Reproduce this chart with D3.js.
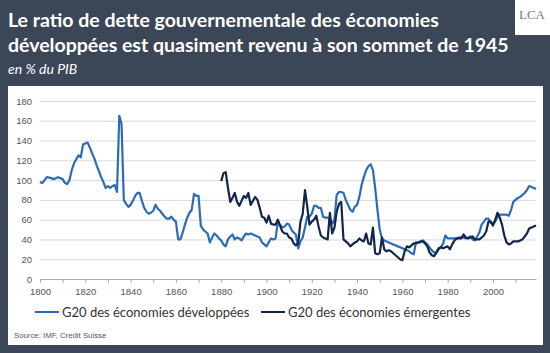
<!DOCTYPE html>
<html>
<head>
<meta charset="utf-8">
<script src="https://cdn.jsdelivr.net/npm/d3@7"></script>
<style>
  body { margin: 0; background: #3b4657; }
  svg { display: block; }
</style>
</head>
<body>
<div id="chart"></div>
<script>
// debt ratio, % of GDP
var devYears = [1800,1801,1802,1803,1805,1806,1808,1810,1811,1812,1813,1814,1815,1816,1817,1818,1819,1820,1821,1822,1823,1824,1825,1826,1827,1828,1829,1830,1831,1832,1833,1834,1835,1836,1837,1838,1839,1840,1841,1842,1843,1844,1845,1846,1847,1848,1849,1850,1851,1852,1853,1854,1855,1856,1857,1858,1859,1860,1861,1862,1863,1864,1865,1866,1867,1868,1869,1870,1871,1872,1873,1874,1875,1876,1877,1878,1879,1880,1881,1882,1883,1884,1885,1886,1887,1888,1889,1890,1891,1892,1893,1894,1895,1896,1897,1898,1899,1900,1901,1902,1903,1904,1905,1906,1907,1908,1909,1910,1911,1912,1913,1914,1915,1916,1917,1918,1919,1920,1921,1922,1923,1924,1925,1926,1927,1928,1929,1930,1931,1932,1933,1934,1935,1936,1937,1938,1939,1940,1941,1942,1943,1944,1945,1946,1947,1948,1949,1950,1951,1952,1953,1954,1955,1956,1957,1958,1959,1960,1961,1962,1963,1964,1965,1966,1967,1968,1969,1970,1971,1972,1973,1974,1975,1976,1977,1978,1979,1980,1981,1982,1983,1984,1985,1986,1987,1988,1989,1990,1991,1992,1993,1994,1995,1996,1997,1998,1999,2000,2001,2002,2003,2004,2005,2006,2007,2008,2009,2010,2011,2012,2013,2014,2015,2016,2017,2018,2019];
var devValues = [98,97,100,103,102,101,103,101,97,96,100,110,117,121,125,123,136,137,138,133,127,122,115,109,103,98,92,94,92,94,95,88,165,157,80,76,73,75,79,84,87,87,79,72,68,66,67,69,75,71,69,66,63,61,61,63,60,58,40,40,47,55,62,67,70,86,84,84,54,50,48,46,37,42,46,44,41,39,35,33,40,43,45,40,42,41,39,43,46,45,46,45,44,43,42,37,35,33,37,41,40,41,57,55,52,53,56,55,50,47,45,31,38,42,52,63,63,66,74,74,72,72,63,62,62,61,56,60,85,88,88,87,80,75,70,68,73,75,83,95,103,110,114,116,110,92,70,50,41,39,38,37,36,35,34,33,32,31,30,29,28,26,25,37,37,37,39,37,35,32,29,27,26,30,32,36,44,41,41,41,41,41,42,42,42,41,42,43,40,39,43,47,55,58,61,61,57,56,58,63,65,65,65,65,64,70,78,80,82,83,85,87,90,94,93,92,91];

var emYears = [1880,1881,1882,1883,1884,1885,1886,1887,1888,1889,1890,1891,1892,1893,1894,1895,1896,1897,1898,1899,1900,1901,1902,1903,1904,1905,1906,1907,1908,1909,1910,1911,1912,1913,1914,1915,1916,1917,1918,1919,1920,1921,1922,1923,1924,1925,1926,1927,1928,1929,1930,1931,1932,1933,1934,1935,1936,1937,1938,1939,1940,1941,1942,1943,1944,1945,1946,1947,1948,1949,1950,1951,1952,1953,1954,1955,1956,1957,1958,1959,1960,1961,1962,1963,1964,1965,1966,1967,1968,1969,1970,1971,1972,1973,1974,1975,1976,1977,1978,1979,1980,1981,1982,1983,1984,1985,1986,1987,1988,1989,1990,1991,1992,1993,1994,1995,1996,1997,1998,1999,2000,2001,2002,2003,2004,2005,2006,2007,2008,2009,2010,2011,2012,2013,2014,2015,2016,2017,2018,2019];
var emValues = [99,107,108,92,78,82,87,78,74,79,84,82,87,75,79,83,80,72,63,62,57,64,56,55,55,60,54,48,46,46,42,41,36,34,36,58,66,90,73,55,58,60,64,53,44,42,41,40,67,46,52,68,76,78,40,38,36,33,35,37,38,41,39,38,46,36,35,52,26,25,26,42,30,28,29,28,26,24,22,20,19,28,33,32,34,36,36,37,38,38,36,33,27,24,23,27,31,32,31,32,33,30,35,39,41,41,41,45,42,41,42,43,40,40,40,42,44,48,58,58,54,60,67,62,55,44,37,35,36,38,38,38,39,40,43,46,51,52,53,54];

var yTicks = [0,20,40,60,80,100,120,140,160,180];
var xLabelYears = [1800,1820,1840,1860,1880,1900,1920,1940,1960,1980,2000];

var titleLines = ["Le ratio de dette gouvernementale des économies",
                  "développées est quasiment revenu à son sommet de 1945"];
var subtitle = "en % du PIB";
var seriesNames = ["G20 des économies développées", "G20 des économies émergentes"];
var source = "Source: IMF, Credit Suisse";

var width = 550, height = 353;
var margin = { top: 101, right: 14, bottom: 74, left: 40 },
    w = width - margin.left - margin.right,
    h = height - margin.top - margin.bottom;

var blue = "#2b6cb6", navy = "#13264a";

var svg = d3.select("#chart")
    .append("svg")
    .attr("width", width)
    .attr("height", height);

svg.append("rect")
    .attr("width", width).attr("height", height)
    .attr("fill", "#3b4657");

// white chart panel
svg.append("rect")
    .attr("x", 8).attr("y", 86)
    .attr("width", 535).attr("height", 259)
    .attr("fill", "white");

// logo box
svg.append("rect")
    .attr("x", 515).attr("y", 0)
    .attr("width", 35).attr("height", 35)
    .attr("fill", "white");
svg.append("text")
    .attr("x", 532).attr("y", 19)
    .attr("text-anchor", "middle")
    .style("font-family", "'Liberation Serif', serif")
    .style("font-size", "13px")
    .style("fill", "#7a7a7a")
    .text("LCA");

// titles
svg.selectAll(".title")
    .data(titleLines)
    .enter()
    .append("text")
    .attr("class", "title")
    .attr("x", 8)
    .attr("y", function(d, i) { return 27 + i * 25; })
    .style("font-family", "Lato, sans-serif")
    .style("font-weight", "bold")
    .style("font-size", "19.5px")
    .style("fill", "white")
    .text(function(d) { return d; });

svg.append("text")
    .attr("x", 8).attr("y", 74)
    .style("font-family", "Lato, sans-serif")
    .style("font-style", "italic")
    .style("font-size", "14px")
    .style("fill", "white")
    .text(subtitle);

var g = svg.append("g")
    .attr("transform", "translate(" + margin.left + "," + margin.top + ")");

var x = d3.scaleLinear()
    .domain([1800, 2019])
    .range([0, w]);

var y = d3.scaleLinear()
    .domain([0, 180])
    .range([h, 0]);

// gridlines
g.append("g")
    .attr("class", "grid")
    .call(d3.axisLeft(y).tickValues(yTicks.slice(1)).tickSize(-w).tickFormat(""))
    .call(function(s) {
        s.select(".domain").remove();
        s.selectAll("line").attr("stroke", "#d9d9d9").attr("stroke-width", 1);
    });

// y axis labels
g.append("g")
    .call(d3.axisLeft(y).tickValues(yTicks).tickSize(0).tickPadding(8))
    .call(function(s) {
        s.select(".domain").remove();
        s.selectAll("text")
            .style("font-family", "'Liberation Sans', Arial, sans-serif")
            .style("font-size", "9.5px")
            .style("fill", "#555");
    });

// x axis
g.append("g")
    .attr("transform", "translate(0," + h + ")")
    .call(d3.axisBottom(x).ticks(22).tickSize(4).tickSizeOuter(0).tickFormat(""))
    .call(function(s) {
        s.select(".domain").attr("stroke", "#aaa");
        s.selectAll("line").attr("stroke", "#aaa");
    });

g.append("g")
    .attr("transform", "translate(0," + h + ")")
    .call(d3.axisBottom(x).tickValues(xLabelYears).tickSize(0).tickPadding(9).tickFormat(d3.format("d")))
    .call(function(s) {
        s.select(".domain").remove();
        s.selectAll("text")
            .style("font-family", "'Liberation Sans', Arial, sans-serif")
            .style("font-size", "9.5px")
            .style("fill", "#555");
    });

var line = d3.line()
    .x(function(d) { return x(d[0]); })
    .y(function(d) { return y(d[1]); });

var dev = d3.zip(devYears, devValues);
var em = d3.zip(emYears, emValues);

g.append("path")
    .datum(dev)
    .attr("fill", "none")
    .attr("stroke", blue)
    .attr("stroke-width", 2.2)
    .attr("stroke-linejoin", "round")
    .attr("d", line);

g.append("path")
    .datum(em)
    .attr("fill", "none")
    .attr("stroke", navy)
    .attr("stroke-width", 2.2)
    .attr("stroke-linejoin", "round")
    .attr("d", line);

// legend
var legend = svg.append("g").attr("transform", "translate(0,312)");
var legendX = [35, 261];
var legendColors = [blue, navy];
seriesNames.forEach(function(name, i) {
    legend.append("line")
        .attr("x1", legendX[i]).attr("x2", legendX[i] + 24)
        .attr("y1", 0).attr("y2", 0)
        .attr("stroke", legendColors[i])
        .attr("stroke-width", 2);
    legend.append("text")
        .attr("x", legendX[i] + 27).attr("y", 5)
        .style("font-family", "Lato, sans-serif")
        .style("font-size", "13px")
        .style("fill", "#333")
        .text(name);
});

svg.append("text")
    .attr("x", 14).attr("y", 338)
    .style("font-family", "'Liberation Sans', Arial, sans-serif")
    .style("font-size", "7.8px")
    .style("fill", "#555")
    .text(source);
</script>
</body>
</html>
